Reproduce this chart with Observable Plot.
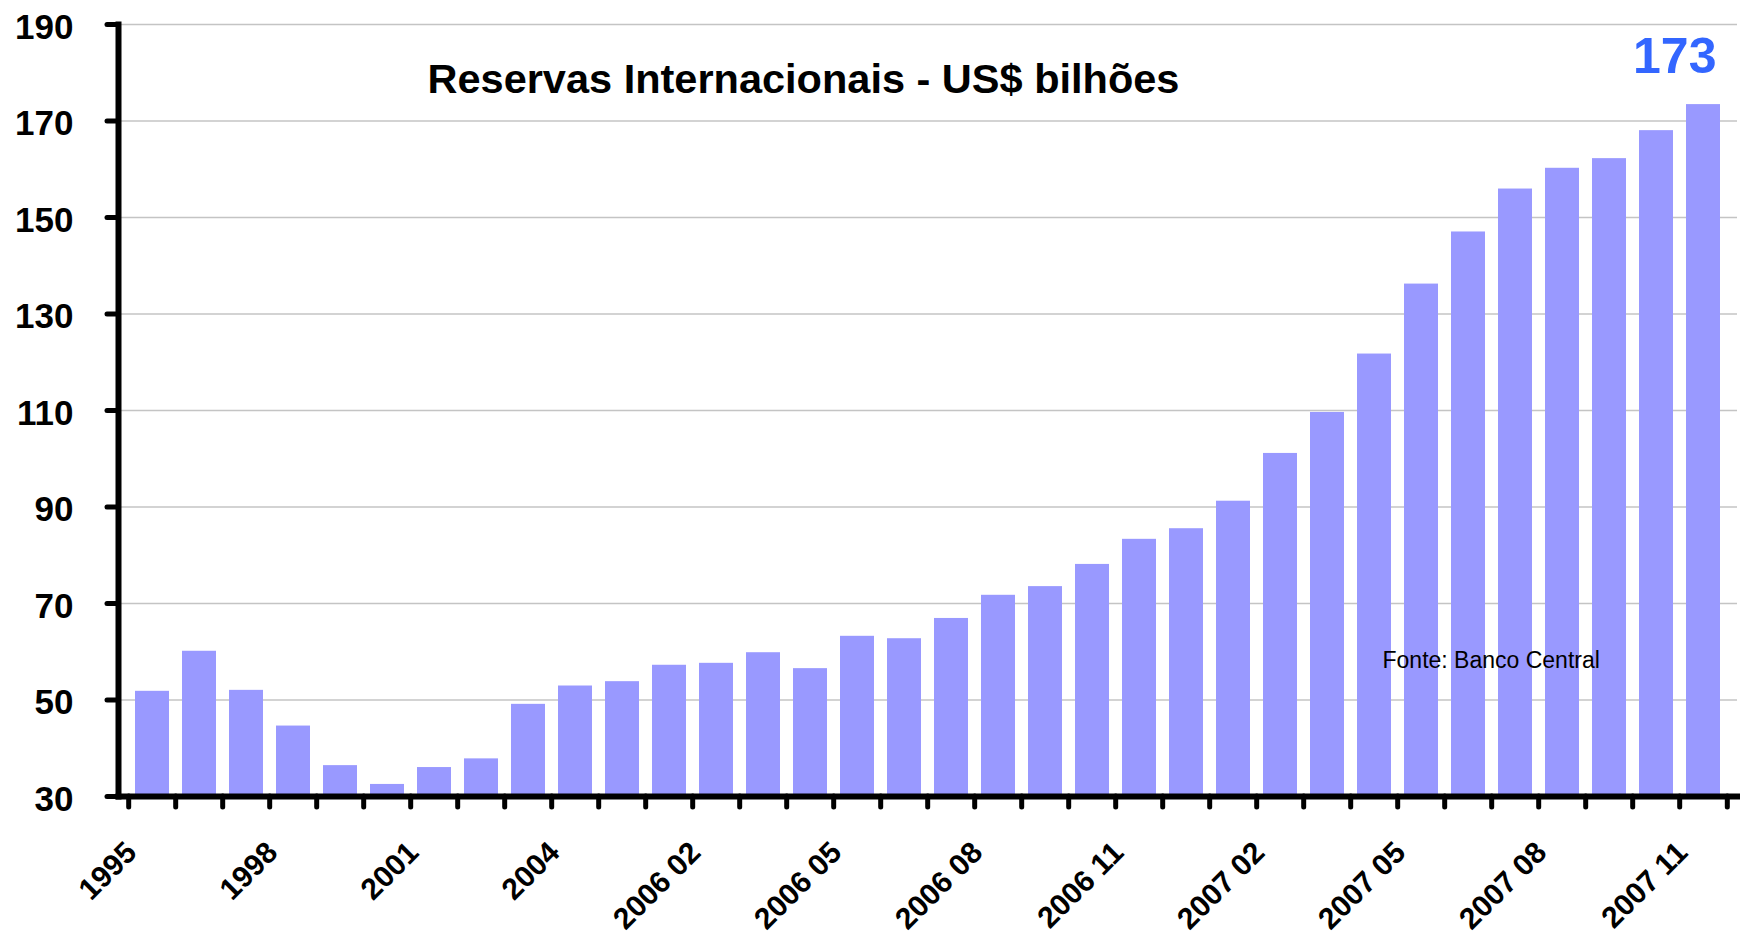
<!DOCTYPE html>
<html>
<head>
<meta charset="utf-8">
<script src="https://cdn.jsdelivr.net/npm/d3@7"></script>
<script src="https://cdn.jsdelivr.net/npm/@observablehq/plot@0.6"></script>
<style>
  html, body { margin: 0; padding: 0; background: #fff; }
  #chart { width: 1740px; height: 932px; }
</style>
</head>
<body>
<div id="chart"></div>
<script>
const categories = ["1995","1996","1997","1998","1999","2000","2001","2002","2003","2004","2005",
  "2006 01","2006 02","2006 03","2006 04","2006 05","2006 06","2006 07","2006 08","2006 09","2006 10","2006 11","2006 12",
  "2007 01","2007 02","2007 03","2007 04","2007 05","2007 06","2007 07","2007 08","2007 09","2007 10","2007 11"];
const reserves = [51.8, 60.1, 52.0, 44.6, 36.4, 32.5, 36.0, 37.8, 49.1, 52.9, 53.8,
  57.2, 57.6, 59.8, 56.5, 63.2, 62.7, 66.9, 71.7, 73.5, 78.1, 83.3, 85.5,
  91.2, 101.1, 109.6, 121.7, 136.2, 147.0, 155.9, 160.2, 162.2, 168.0, 173.4];
const xTickLabels = ["1995","1998","2001","2004","2006 02","2006 05","2006 08","2006 11","2007 02","2007 05","2007 08","2007 11"];
const yTicks = [30, 50, 70, 90, 110, 130, 150, 170, 190];
const gridLines = [50, 70, 90, 110, 130, 150, 170, 190];
const yDomain = [30, 190];
const highlightText = "173";
const titleText = "Reservas Internacionais - US$ bilhões";
const sourceText = "Fonte: Banco Central";

const data = categories.map((c, i) => ({category: c, value: reserves[i]}));
const last = data[data.length - 1];

const W = 1740, H = 932, ML = 118, MR = 3, MT = 24, MB = 136;
const step = (W - ML - MR) / categories.length;
const sans = "'Liberation Sans', Arial, Helvetica, sans-serif";

const chart = Plot.plot({
  width: W,
  height: H,
  marginLeft: ML,
  marginRight: MR,
  marginTop: MT,
  marginBottom: MB,
  style: {fontFamily: sans, background: "#fff", overflow: "visible"},
  x: {domain: categories, padding: 0.285, axis: null},
  y: {domain: yDomain, axis: null},
  marks: [
    Plot.ruleY(gridLines, {stroke: "#c4c4c4", strokeWidth: 1.4}),
    Plot.barY(data, {x: "category", y1: yDomain[0], y2: "value", fill: "#9999ff"}),
    // x-axis boundary ticks
    Plot.axisX({ticks: categories, tickFormat: () => "", tickSize: 11, dx: -step / 2, label: null,
      strokeWidth: 5, strokeLinecap: "round", stroke: "#000"}),
    Plot.axisX({ticks: [categories[categories.length - 1]], tickFormat: () => "", tickSize: 11, dx: step / 2, label: null,
      strokeWidth: 5, strokeLinecap: "round", stroke: "#000"}),
    // x labels
    Plot.axisX({ticks: xTickLabels, tickSize: 0, tickPadding: 51, tickRotate: -45, dx: -21, label: null,
      fontSize: 30, fontWeight: "bold", fontFamily: sans, fill: "#000"}),
    // y axis ticks
    Plot.axisY({ticks: yTicks, tickFormat: () => "", tickSize: 11, strokeWidth: 5, strokeLinecap: "round",
      label: null, stroke: "#000"}),
    // y axis labels
    Plot.axisY({ticks: yTicks, tickSize: 0, tickPadding: 45, label: null, dy: 3,
      fontSize: 35, fontWeight: "bold", fontFamily: sans, fill: "#000"}),
    Plot.frame({anchor: "left", stroke: "#000", strokeWidth: 6}),
    Plot.frame({anchor: "bottom", stroke: "#000", strokeWidth: 6}),
    // highlighted last value
    Plot.text([last], {x: "category", y: "value", text: () => highlightText, textAnchor: "end",
      dx: 13, dy: -48, fontSize: 50, fontWeight: "bold", fill: "#3366ff"}),
    // title
    Plot.text([titleText], {frameAnchor: "top-left", textAnchor: "start", lineAnchor: "middle",
      dx: 309, dy: 55, fontSize: 41.5, fontWeight: "bold", fill: "#000"}),
    // source
    Plot.text([sourceText], {frameAnchor: "top-left", textAnchor: "start", lineAnchor: "middle",
      dx: 1264, dy: 636, fontSize: 23, fill: "#000"})
  ]
});
document.getElementById("chart").appendChild(chart);
</script>
</body>
</html>
